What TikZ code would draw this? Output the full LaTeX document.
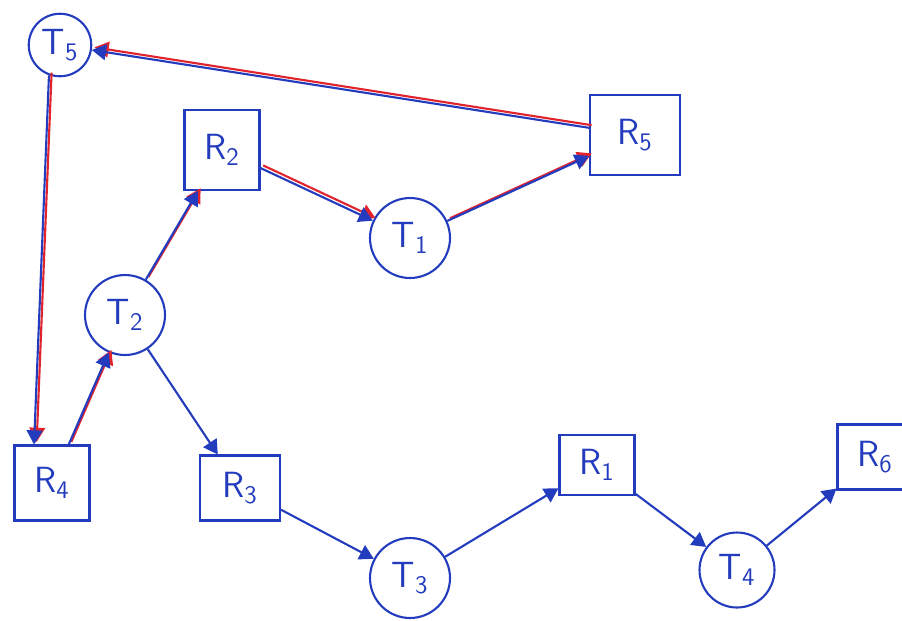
\documentclass[tikz,border=0pt]{standalone}
\usepackage{tikz}
\usetikzlibrary{arrows}
\usepackage{xcolor}
\definecolor{penblue}{RGB}{35,60,190}
\definecolor{penred}{RGB}{225,35,45}

\begin{document}
\begin{tikzpicture}[x=0.02cm,y=-0.02cm,>=triangle 60,line width=1.2pt,
  tr/.style={circle,draw=penblue,text=penblue,font=\sffamily\huge,inner sep=0pt},
  res/.style={rectangle,draw=penblue,text=penblue,font=\sffamily\huge,inner sep=0pt},
  hot/.style={preaction={draw=penred,transform canvas={shift={(1.5pt,1.5pt)}}}}]
  \useasboundingbox (0,0) rectangle (902,620);

  \node[tr,minimum size=1.25cm]                       (t5) at (60,45)   {T\textsubscript{5}};
  \node[res,minimum width=1.5cm,minimum height=1.6cm] (r2) at (222,150) {R\textsubscript{2}};
  \node[tr,minimum size=1.6cm]                        (t1) at (410,238) {T\textsubscript{1}};
  \node[res,minimum width=1.8cm,minimum height=1.6cm] (r5) at (635,135) {R\textsubscript{5}};
  \node[tr,minimum size=1.6cm]                        (t2) at (125,315) {T\textsubscript{2}};
  \node[res,minimum width=1.5cm,minimum height=1.5cm] (r4) at (52,483)  {R\textsubscript{4}};
  \node[res,minimum width=1.6cm,minimum height=1.3cm] (r3) at (240,488) {R\textsubscript{3}};
  \node[tr,minimum size=1.6cm]                        (t3) at (410,578) {T\textsubscript{3}};
  \node[res,minimum width=1.5cm,minimum height=1.2cm] (r1) at (597,465) {R\textsubscript{1}};
  \node[tr,minimum size=1.5cm]                        (t4) at (737,570) {T\textsubscript{4}};
  \node[res,minimum width=1.5cm,minimum height=1.3cm] (r6) at (875,457) {R\textsubscript{6}};

  % highlighted cycle
  \path[->,penblue] (t5.250) edge[hot] (r4.115)
        (r4) edge[hot] (t2)
        (t2) edge[hot] (r2)
        (r2) edge[hot] (t1)
        (t1) edge[hot] (r5)
        (r5) edge[hot] (t5);

  \path[->,penblue] (t2) edge (r3)
        (r3) edge (t3)
        (t3) edge (r1)
        (r1) edge (t4)
        (t4) edge (r6);
\end{tikzpicture}
\end{document}
